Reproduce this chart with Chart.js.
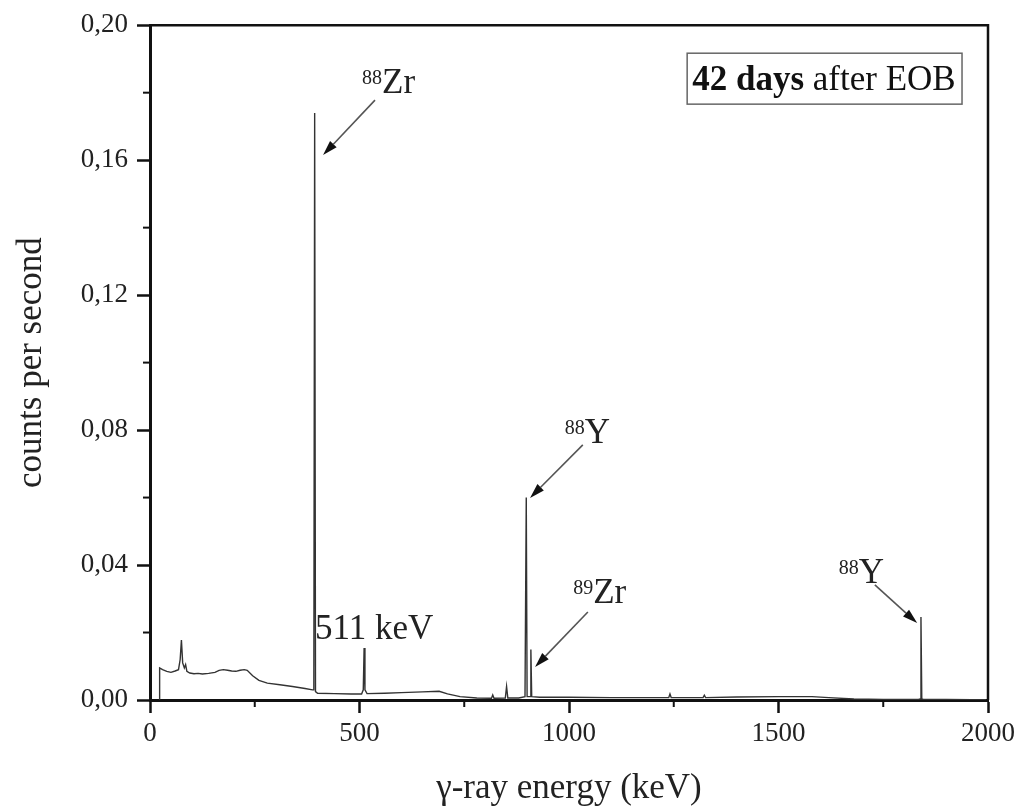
<!DOCTYPE html>
<html>
<head>
<meta charset="utf-8">
<script src="https://cdn.jsdelivr.net/npm/chart.js@4.4.1/dist/chart.umd.min.js"></script>
<style>
  html, body { margin: 0; padding: 0; background: #fff; }
  #wrap { width: 1021px; height: 810px; }
</style>
</head>
<body>
<div id="wrap"><canvas id="c" width="1021" height="810"></canvas></div>
<script>
// ---- Data ----
const energies = [
  22, 23, 30, 40, 50, 60, 68, 72, 75, 78, 82, 85, 88, 95, 105, 115, 125, 140, 155, 165,
  175, 185, 195, 205, 215, 225, 232, 245, 260, 280, 310, 340, 370, 388, 391, 393, 395, 400,
  440, 480, 505, 509, 511, 513, 518, 560, 600, 650, 690, 710, 740, 780, 815, 818, 821, 848,
  851, 854, 880, 895, 898, 900, 907, 909, 911, 930, 1000, 1100, 1200, 1238, 1241, 1244,
  1300, 1320, 1323, 1326, 1400, 1500, 1580, 1620, 1680, 1750, 1834, 1838, 1840, 1842,
  1846, 1900, 1960, 1995
];
const counts = [
  0.0000, 0.0095, 0.0090, 0.0085, 0.0082, 0.0086, 0.0090, 0.0120, 0.0178, 0.0110, 0.0095,
  0.0105, 0.0085, 0.0080, 0.0078, 0.0079, 0.0077, 0.0079, 0.0082, 0.0088,
  0.0090, 0.0088, 0.0086, 0.0085, 0.0088, 0.0090, 0.0088, 0.0072, 0.0058, 0.0050, 0.0045,
  0.0040, 0.0034, 0.0030, 0.0030, 0.1740, 0.0025, 0.0020,
  0.0019, 0.0018, 0.0018, 0.0030, 0.0154, 0.0030, 0.0019, 0.0020, 0.0022, 0.0024, 0.0026,
  0.0018, 0.0010, 0.0006, 0.0005, 0.0015, 0.0005, 0.0006,
  0.0040, 0.0006, 0.0006, 0.0010, 0.0600, 0.0010, 0.0010, 0.0150, 0.0010, 0.0008, 0.0008,
  0.0007, 0.0007, 0.0007, 0.0018, 0.0007,
  0.0007, 0.0007, 0.0014, 0.0007, 0.0009, 0.0010, 0.0010, 0.0007, 0.0003, 0.0002, 0.0002,
  0.0003, 0.0246, 0.0003,
  0.0002, 0.0002, 0.0001, 0.0001
];
const xTickStep = 500;
const yTickStep = 0.04;
const xRange = [0, 2000];
const yRange = [0, 0.20];

// Annotation texts, anchored in data coordinates (energy, cps)
const peakLabels = [
  { sup: '88', text: 'Zr', x: 506, y: 0.1799 },
  { sup: '88', text: 'Y', x: 990, y: 0.0761 },
  { sup: '89', text: 'Zr', x: 1010, y: 0.0287 },
  { sup: '88', text: 'Y', x: 1644, y: 0.0347 },
  { sup: '', text: '511 keV', x: 394, y: 0.0181 }
];
const arrows = [
  { x1: 537, y1: 0.1778, x2: 413, y2: 0.1615 },
  { x1: 1033, y1: 0.0756, x2: 907, y2: 0.0599 },
  { x1: 1045, y1: 0.0261, x2: 919, y2: 0.0098 },
  { x1: 1730, y1: 0.0341, x2: 1831, y2: 0.0228 }
];
const infoBox = { bold: '42 days', rest: ' after EOB', x1: 1282, x2: 1938, y1: 0.1917, y2: 0.1766, tx: 1294, ty: 0.1807 };

const SERIF = '"Liberation Serif", "DejaVu Serif", "Times New Roman", serif';

const points = energies.map((e, i) => ({ x: e, y: counts[i] }));

const decorPlugin = {
  id: 'decor',
  afterDraw(chart) {
    const ctx = chart.ctx;
    const xs = chart.scales.x, ys = chart.scales.y;
    const a = chart.chartArea;
    ctx.save();
    // frame top & right
    ctx.strokeStyle = '#111';
    ctx.lineWidth = 2.5;
    ctx.beginPath();
    ctx.moveTo(a.left - 1, a.top);
    ctx.lineTo(a.right, a.top);
    ctx.lineTo(a.right, a.bottom);
    ctx.stroke();
    // minor ticks (midpoints between major ticks)
    ctx.lineWidth = 2;
    const xt = xs.ticks.map(t => t.value);
    for (let i = 0; i < xt.length - 1; i++) {
      const px = xs.getPixelForValue((xt[i] + xt[i + 1]) / 2);
      ctx.beginPath(); ctx.moveTo(px, a.bottom); ctx.lineTo(px, a.bottom + 7); ctx.stroke();
    }
    const yt = ys.ticks.map(t => t.value);
    for (let i = 0; i < yt.length - 1; i++) {
      const py = ys.getPixelForValue((yt[i] + yt[i + 1]) / 2);
      ctx.beginPath(); ctx.moveTo(a.left, py); ctx.lineTo(a.left - 7, py); ctx.stroke();
    }
    // arrows
    arrows.forEach(ar => {
      const x1 = xs.getPixelForValue(ar.x1), y1 = ys.getPixelForValue(ar.y1);
      const x2 = xs.getPixelForValue(ar.x2), y2 = ys.getPixelForValue(ar.y2);
      const ang = Math.atan2(y2 - y1, x2 - x1);
      const L = 15, W = 4.5;
      const bx = x2 - L * Math.cos(ang), by = y2 - L * Math.sin(ang);
      ctx.strokeStyle = '#555';
      ctx.lineWidth = 1.6;
      ctx.beginPath(); ctx.moveTo(x1, y1); ctx.lineTo(bx, by); ctx.stroke();
      ctx.fillStyle = '#111';
      ctx.beginPath();
      ctx.moveTo(x2, y2);
      ctx.lineTo(bx + W * Math.sin(ang), by - W * Math.cos(ang));
      ctx.lineTo(bx - W * Math.sin(ang), by + W * Math.cos(ang));
      ctx.closePath(); ctx.fill();
    });
    // peak labels
    ctx.fillStyle = '#222';
    ctx.textBaseline = 'alphabetic';
    ctx.textAlign = 'left';
    peakLabels.forEach(l => {
      let px = xs.getPixelForValue(l.x);
      const py = ys.getPixelForValue(l.y);
      if (l.sup) {
        ctx.font = '20px ' + SERIF;
        ctx.fillText(l.sup, px, py - 9);
        px += ctx.measureText(l.sup).width;
      }
      ctx.font = '35px ' + SERIF;
      ctx.fillText(l.text, px, py);
    });
    // info box
    const bx1 = xs.getPixelForValue(infoBox.x1), bx2 = xs.getPixelForValue(infoBox.x2);
    const by1 = ys.getPixelForValue(infoBox.y1), by2 = ys.getPixelForValue(infoBox.y2);
    ctx.strokeStyle = '#666';
    ctx.lineWidth = 1.5;
    ctx.strokeRect(bx1, by1, bx2 - bx1, by2 - by1);
    let tx = xs.getPixelForValue(infoBox.tx);
    const ty = ys.getPixelForValue(infoBox.ty);
    ctx.fillStyle = '#111';
    ctx.font = 'bold 35px ' + SERIF;
    ctx.fillText(infoBox.bold, tx, ty);
    tx += ctx.measureText(infoBox.bold).width;
    ctx.font = '35px ' + SERIF;
    ctx.fillText(infoBox.rest, tx, ty);
    ctx.restore();
  }
};

new Chart(document.getElementById('c'), {
  type: 'line',
  data: {
    datasets: [{
      data: points,
      borderColor: '#333',
      borderWidth: 1.4,
      pointRadius: 0,
      tension: 0,
      fill: false
    }]
  },
  options: {
    responsive: false,
    animation: false,
    parsing: false,
    layout: { padding: { left: 0, top: 25, right: 33, bottom: 0 } },
    plugins: { legend: { display: false }, tooltip: { enabled: false } },
    scales: {
      x: {
        type: 'linear',
        min: xRange[0], max: xRange[1],
        afterFit(s) { s.height = 110; },
        ticks: {
          stepSize: xTickStep,
          color: '#222',
          padding: 5,
          maxRotation: 0,
          font: { family: SERIF, size: 27 },
          callback: v => String(v)
        },
        grid: { drawOnChartArea: false, drawTicks: true, tickLength: 13, tickWidth: 2.5, tickColor: '#111' },
        border: { display: true, color: '#111', width: 3 },
        title: {
          display: true, text: 'γ-ray energy (keV)', color: '#222',
          font: { family: SERIF, size: 35 }, padding: { top: 0, bottom: 0 }
        }
      },
      y: {
        type: 'linear',
        min: yRange[0], max: yRange[1],
        afterFit(s) { s.width = 150; },
        ticks: {
          stepSize: yTickStep,
          color: '#222',
          padding: 9,
          font: { family: SERIF, size: 27 },
          callback: v => v.toFixed(2).replace('.', ',')
        },
        grid: { drawOnChartArea: false, drawTicks: true, tickLength: 13, tickWidth: 2.5, tickColor: '#111' },
        border: { display: true, color: '#111', width: 3 },
        title: {
          display: true, text: 'counts per second', color: '#222',
          font: { family: SERIF, size: 35 }, padding: { top: 11, bottom: 0 }
        }
      }
    }
  },
  plugins: [decorPlugin]
});
</script>
</body>
</html>
